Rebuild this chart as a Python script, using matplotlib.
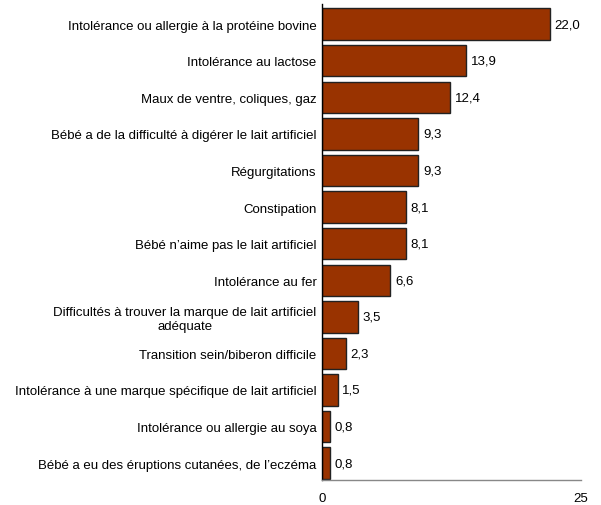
import matplotlib
matplotlib.use("Agg")
import matplotlib.pyplot as plt

categories = [
    "Intolérance ou allergie à la protéine bovine",
    "Intolérance au lactose",
    "Maux de ventre, coliques, gaz",
    "Bébé a de la difficulté à digérer le lait artificiel",
    "Régurgitations",
    "Constipation",
    "Bébé n’aime pas le lait artificiel",
    "Intolérance au fer",
    "Difficultés à trouver la marque de lait artificiel\nadéquate",
    "Transition sein/biberon difficile",
    "Intolérance à une marque spécifique de lait artificiel",
    "Intolérance ou allergie au soya",
    "Bébé a eu des éruptions cutanées, de l’eczéma",
]
values = [22.0, 13.9, 12.4, 9.3, 9.3, 8.1, 8.1, 6.6, 3.5, 2.3, 1.5, 0.8, 0.8]
x_ticks = [0, 25]

plt.rcParams["font.family"] = ["Liberation Sans", "DejaVu Sans"]
FS = 9.5

fig = plt.figure(figsize=(6.01, 5.06), dpi=100)
ax = fig.add_axes([322 / 601, 1 - 481 / 506, (581 - 322) / 601, (481 - 5) / 506])

n = len(values)
ypos = list(range(n))
ax.barh(ypos, values, height=0.86, color="#993300", edgecolor="#222222", linewidth=1.0)
ax.set_ylim(n - 1 + 0.46, -0.55)
ax.set_xlim(0, 25)

for y, v in zip(ypos, values):
    ax.text(v + 0.45, y, f"{v:.1f}".replace(".", ","), va="center", ha="left", fontsize=FS)

ax.set_yticks(ypos)
ax.set_yticklabels(categories, fontsize=FS, ha="right", multialignment="center")
ax.set_xticks(x_ticks)
ax.set_xticklabels([str(t) for t in x_ticks], fontsize=FS)
ax.tick_params(axis="y", length=0, pad=4)
ax.tick_params(axis="x", length=0, pad=9)

for s in ("top", "right"):
    ax.spines[s].set_visible(False)
ax.spines["left"].set_color("black")
ax.spines["left"].set_linewidth(1.0)
ax.spines["bottom"].set_color("#888888")
ax.spines["bottom"].set_linewidth(1.0)

fig.savefig("out.png", dpi=100)
